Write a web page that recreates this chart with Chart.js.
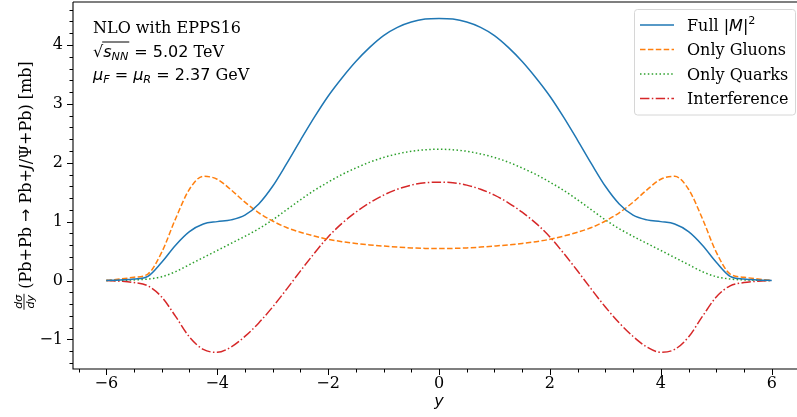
<!DOCTYPE html>
<html>
<head>
<meta charset="utf-8">
<script src="https://cdn.jsdelivr.net/npm/chart.js@4.4.1/dist/chart.umd.min.js"></script>
<style>
  html, body { margin: 0; padding: 0; background: #fff; overflow: hidden; }
  #moldura { width: 812px; height: 417px; }
</style>
</head>
<body>
<div id="moldura"><canvas id="grafico" width="812" height="417"></canvas></div>
<script>
/* Rapidez y (eixo x) */
const RAPIDEZ = [
  -6, -5.75, -5.5, -5.25, -5, -4.75, -4.5, -4.25, -4, -3.75, -3.5, -3.25,
  -3, -2.75, -2.5, -2.25, -2, -1.75, -1.5, -1.25, -1, -0.75, -0.5, -0.25,
  0, 0.25, 0.5, 0.75, 1, 1.25, 1.5, 1.75, 2, 2.25, 2.5, 2.75,
  3, 3.25, 3.5, 3.75, 4, 4.25, 4.5, 4.75, 5, 5.25, 5.5, 5.75, 6
];

/* dσ/dy [mb] de cada contribuição */
const FULL = [
  0, 0.01, 0.025, 0.07, 0.31, 0.60, 0.83, 0.96, 1.00, 1.03, 1.11, 1.30,
  1.60, 1.98, 2.38, 2.77, 3.13, 3.44, 3.72, 3.96, 4.16, 4.30, 4.39, 4.44,
  4.45, 4.44, 4.39, 4.30, 4.16, 3.96, 3.72, 3.44, 3.13, 2.77, 2.38, 1.98,
  1.60, 1.30, 1.11, 1.03, 1.00, 0.96, 0.83, 0.60, 0.31, 0.07, 0.025, 0.01, 0
];
const GLUONS = [
  0, 0.025, 0.055, 0.11, 0.48, 1.05, 1.55, 1.77, 1.72, 1.54, 1.33, 1.15,
  1.01, 0.90, 0.82, 0.755, 0.70, 0.66, 0.63, 0.605, 0.585, 0.567, 0.553, 0.545,
  0.542, 0.545, 0.553, 0.567, 0.585, 0.605, 0.63, 0.66, 0.70, 0.755, 0.82, 0.90,
  1.01, 1.15, 1.33, 1.54, 1.72, 1.77, 1.55, 1.05, 0.48, 0.11, 0.055, 0.025, 0
];
const QUARKS = [
  0, 0.003, 0.01, 0.025, 0.065, 0.15, 0.27, 0.39, 0.51, 0.63, 0.75, 0.88,
  1.03, 1.20, 1.37, 1.53, 1.67, 1.80, 1.91, 2.01, 2.09, 2.15, 2.195, 2.22,
  2.23, 2.22, 2.195, 2.15, 2.09, 2.01, 1.91, 1.80, 1.67, 1.53, 1.37, 1.20,
  1.03, 0.88, 0.75, 0.63, 0.51, 0.39, 0.27, 0.15, 0.065, 0.025, 0.01, 0.003, 0
];
const INTERF = [
  0, -0.012, -0.035, -0.09, -0.28, -0.61, -0.96, -1.17, -1.22, -1.13, -0.95, -0.72,
  -0.45, -0.15, 0.16, 0.46, 0.74, 0.97, 1.16, 1.32, 1.45, 1.55, 1.62, 1.66,
  1.67, 1.66, 1.62, 1.55, 1.45, 1.32, 1.16, 0.97, 0.74, 0.46, 0.16, -0.15,
  -0.45, -0.72, -0.95, -1.13, -1.22, -1.17, -0.96, -0.61, -0.28, -0.09, -0.035, -0.012, 0
];

/* Ticks */
const X_MAIORES = [-6, -4, -2, 0, 2, 4, 6];
const X_MENORES = [-6.5, -5.5, -5, -4.5, -3.5, -3, -2.5, -1.5, -1, -0.5, 0.5, 1, 1.5, 2.5, 3, 3.5, 4.5, 5, 5.5, 6.5];
const Y_MAIORES = [-1, 0, 1, 2, 3, 4];
const Y_MENORES = [-1.4, -1.2, -0.8, -0.6, -0.4, -0.2, 0.2, 0.4, 0.6, 0.8, 1.2, 1.4, 1.6, 1.8,
  2.2, 2.4, 2.6, 2.8, 3.2, 3.4, 3.6, 3.8, 4.2, 4.4, 4.6];

const SERIES = [
  { nome: 'Full', valores: FULL, cor: '#1f77b4', traco: [] },
  { nome: 'Only Gluons', valores: GLUONS, cor: '#ff7f0e', traco: [5.5, 2.4] },
  { nome: 'Only Quarks', valores: QUARKS, cor: '#2ca02c', traco: [1.5, 2.4] },
  { nome: 'Interference', valores: INTERF, cor: '#d62728', traco: [9.4, 2.4, 1.5, 2.4] }
];

const SERIFA = "'DejaVu Serif', serif";
const SANS = "'DejaVu Sans', sans-serif";
const menos = v => String(v).replace('-', '\u2212');

/* escreve uma sequência de trechos [texto, fonte, deslocamentoY] e devolve o x final */
function escrever(ctx, x, y, trechos, medirSo = false) {
  let cx = x;
  for (const [t, f, dy = 0] of trechos) {
    ctx.font = f;
    if (!medirSo) ctx.fillText(t, cx, y + dy);
    cx += ctx.measureText(t).width;
  }
  return cx;
}

const eixosPlugin = {
  id: 'eixos',
  afterDraw(chart) {
    const { ctx, chartArea: a, scales: { x, y } } = chart;
    ctx.save();
    ctx.strokeStyle = '#000';
    ctx.fillStyle = '#000';
    ctx.lineWidth = 1.1;

    // spines (esquerda, baixo, topo)
    ctx.beginPath();
    ctx.moveTo(a.left, a.top); ctx.lineTo(a.left, a.bottom); ctx.lineTo(a.right + 2, a.bottom);
    ctx.moveTo(a.left, a.top); ctx.lineTo(a.right + 2, a.top);
    ctx.stroke();

    // ticks para fora
    ctx.lineWidth = 1;
    ctx.beginPath();
    X_MAIORES.forEach(v => { const p = Math.round(x.getPixelForValue(v)) + 0.5; ctx.moveTo(p, a.bottom); ctx.lineTo(p, a.bottom + 6); });
    X_MENORES.forEach(v => { const p = Math.round(x.getPixelForValue(v)) + 0.5; ctx.moveTo(p, a.bottom); ctx.lineTo(p, a.bottom + 3.5); });
    Y_MAIORES.forEach(v => { const p = Math.round(y.getPixelForValue(v)) + 0.5; ctx.moveTo(a.left, p); ctx.lineTo(a.left - 6, p); });
    Y_MENORES.forEach(v => { const p = Math.round(y.getPixelForValue(v)) + 0.5; ctx.moveTo(a.left, p); ctx.lineTo(a.left - 3.5, p); });
    ctx.stroke();

    ctx.textBaseline = 'alphabetic';
    ctx.textAlign = 'left';

    // rótulo do eixo x
    ctx.font = `italic 16px ${SANS}`;
    ctx.textAlign = 'center';
    ctx.fillText('y', x.getPixelForValue(0), 406);
    ctx.textAlign = 'left';

    // rótulo do eixo y (girado)
    ctx.save();
    ctx.translate(31, (a.top + a.bottom) / 2);
    ctx.rotate(-Math.PI / 2);
    const fracF = `italic 11px ${SANS}`;
    ctx.font = fracF;
    const wFrac = Math.max(ctx.measureText('dσ').width, ctx.measureText('dy').width) + 2;
    const resto = [
      [' (Pb+Pb ', `16px ${SERIFA}`], ['\u2192', `16px ${SANS}`], [' Pb+', `16px ${SERIFA}`],
      ['J', `italic 16px ${SANS}`], ['/\u03A8+Pb) [mb]', `16px ${SERIFA}`]
    ];
    const wResto = escrever(ctx, 0, 0, resto, true);
    const x0 = -(wFrac + wResto) / 2;
    ctx.font = fracF;
    ctx.textAlign = 'center';
    ctx.fillText('dσ', x0 + wFrac / 2, -9.5);
    ctx.fillText('dy', x0 + wFrac / 2, 2.5);
    ctx.textAlign = 'left';
    ctx.lineWidth = 0.9;
    ctx.beginPath(); ctx.moveTo(x0, -7); ctx.lineTo(x0 + wFrac, -7); ctx.stroke();
    escrever(ctx, x0 + wFrac, 0, resto);
    ctx.restore();

    // anotação no canto superior esquerdo
    const f16 = `16px ${SERIFA}`, m16 = `16px ${SANS}`, mi16 = `italic 16px ${SANS}`, sub = `italic 11.2px ${SANS}`;
    escrever(ctx, 93, 33, [['NLO with EPPS16', f16]]);
    let cx = escrever(ctx, 93, 57, [['\u221A', m16]]);
    const ini = cx;
    cx = escrever(ctx, cx, 57, [['s', mi16], ['NN', sub, 3]]);
    ctx.lineWidth = 1;
    ctx.beginPath(); ctx.moveTo(ini - 1, 42); ctx.lineTo(cx + 1, 42); ctx.stroke();
    escrever(ctx, cx + 1, 57, [[' = 5.02', m16], [' TeV', f16]]);
    escrever(ctx, 93, 80, [['\u03BC', mi16], ['F', sub, 3], [' = ', m16], ['\u03BC', mi16], ['R', sub, 3],
      [' = 2.37', m16], [' GeV', f16]]);

    // legenda
    const lx = 634.5, ly = 9.5, lw = 161, lh = 105.5, r = 3;
    ctx.beginPath();
    ctx.moveTo(lx + r, ly); ctx.lineTo(lx + lw - r, ly); ctx.quadraticCurveTo(lx + lw, ly, lx + lw, ly + r);
    ctx.lineTo(lx + lw, ly + lh - r); ctx.quadraticCurveTo(lx + lw, ly + lh, lx + lw - r, ly + lh);
    ctx.lineTo(lx + r, ly + lh); ctx.quadraticCurveTo(lx, ly + lh, lx, ly + lh - r);
    ctx.lineTo(lx, ly + r); ctx.quadraticCurveTo(lx, ly, lx + r, ly);
    ctx.fillStyle = 'rgba(255,255,255,0.8)';
    ctx.fill();
    ctx.strokeStyle = '#d6d6d6';
    ctx.lineWidth = 1;
    ctx.stroke();
    const lf = `16px ${SERIFA}`;
    SERIES.forEach((s, i) => {
      const yy = 25 + i * 24.5;
      ctx.strokeStyle = s.cor;
      ctx.lineWidth = 1.5;
      ctx.setLineDash(s.traco);
      ctx.beginPath(); ctx.moveTo(640, yy); ctx.lineTo(674, yy); ctx.stroke();
      ctx.setLineDash([]);
      ctx.fillStyle = '#000';
      if (i === 0) {
        escrever(ctx, 687, yy + 5.5, [['Full ', lf], ['|', `16px ${SANS}`], ['M', `italic 16px ${SANS}`],
          ['|', `16px ${SANS}`], ['2', `11.2px ${SANS}`, -6.5]]);
      } else {
        escrever(ctx, 687, yy + 5.5, [[s.nome, lf]]);
      }
    });
    ctx.restore();
  }
};

new Chart(document.getElementById('grafico'), {
  type: 'line',
  data: {
    datasets: SERIES.map(s => ({
      label: s.nome,
      data: RAPIDEZ.map((v, i) => ({ x: v, y: s.valores[i] })),
      borderColor: s.cor,
      borderWidth: 1.5,
      borderDash: s.traco,
      pointRadius: 0,
      fill: false,
      cubicInterpolationMode: 'monotone'
    }))
  },
  options: {
    responsive: false,
    animation: false,
    events: [],
    layout: { padding: { top: 2, right: 7, left: 0, bottom: 0 } },
    plugins: { legend: { display: false }, tooltip: { enabled: false } },
    scales: {
      x: {
        type: 'linear', min: -6.6, max: 6.6,
        afterFit: s => { s.height = 48; s.paddingLeft = 0; s.paddingRight = 0; },
        afterBuildTicks: s => { s.ticks = X_MAIORES.map(v => ({ value: v })); },
        grid: { display: false, drawTicks: false }, border: { display: false },
        ticks: { color: '#000', padding: 5, maxRotation: 0, autoSkip: false,
          font: { family: SERIFA, size: 16 }, callback: v => menos(v) }
      },
      y: {
        type: 'linear', min: -1.503, max: 4.73,
        afterFit: s => { s.width = 73; s.paddingTop = 0; s.paddingBottom = 0; },
        afterBuildTicks: s => { s.ticks = Y_MAIORES.map(v => ({ value: v })); },
        grid: { display: false, drawTicks: false }, border: { display: false },
        ticks: { color: '#000', padding: 10, font: { family: SERIFA, size: 16 }, callback: v => menos(v) }
      }
    }
  },
  plugins: [eixosPlugin]
});
</script>
</body>
</html>
